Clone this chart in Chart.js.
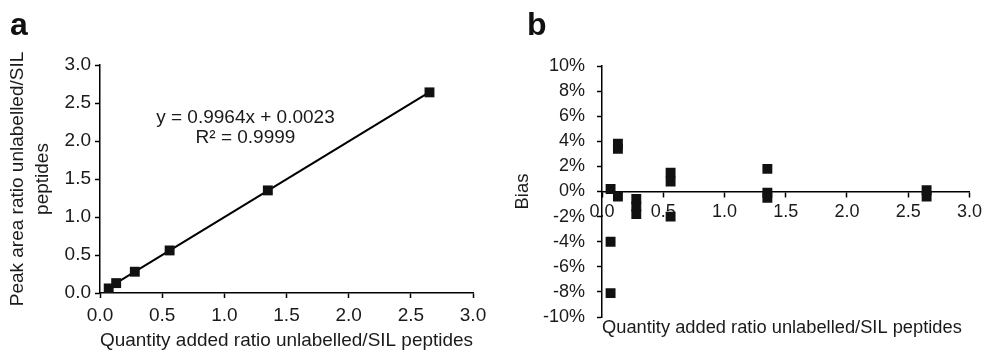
<!DOCTYPE html>
<html>
<head>
<meta charset="utf-8">
<script src="https://cdn.jsdelivr.net/npm/chart.js@4.4.1/dist/chart.umd.min.js"></script>
<style>
  html, body { margin: 0; padding: 0; background: #fff; }
  #wrap { position: relative; width: 987px; height: 352px; }
  canvas { position: absolute; top: 0; }
  #chartA { left: 0; }
  #chartB { left: 495px; }
</style>
</head>
<body>
<div id="wrap">
  <canvas id="chartA" width="495" height="352"></canvas>
  <canvas id="chartB" width="492" height="352"></canvas>
</div>
<script>
// added ratio levels (unlabelled / SIL)
const addedRatio = [0.07, 0.13, 0.28, 0.56, 1.35, 2.65];
// measured peak area ratio per level (panel a)
const peakRatio = [0.06, 0.13, 0.28, 0.56, 1.35, 2.64];
// linear fit shown on panel a
const fitSlope = 0.9964;
const fitIntercept = 0.0023;
const fitR2 = 0.9999;

// panel b: bias (%) of each replicate
const biasX = [0.07, 0.07, 0.07, 0.13, 0.13, 0.13, 0.28, 0.28, 0.28, 0.56, 0.56, 0.56, 1.35, 1.35, 1.35, 2.65, 2.65];
const biasY = [0.2, -4.0, -8.1, 3.8, 3.4, -0.4, -0.6, -1.2, -1.8, 1.5, 0.8, -2.0, 1.8, -0.1, -0.5, 0.1, -0.4];

const xMin = 0, xMax = 3, xStep = 0.5;
const peakMin = 0, peakMax = 3, peakStep = 0.5;
const biasMin = -10, biasMax = 10, biasStep = 2;

Chart.defaults.font.family = '"Liberation Sans", Arial, sans-serif';
Chart.defaults.color = '#1a1a1a';
Chart.defaults.animation = false;

const black = '#111';

function axisGrid() {
  return { drawOnChartArea: false, drawTicks: true, tickLength: 5, tickColor: '#000', tickWidth: 1.5 };
}

// panel letter + extra texts
function textPlugin(letter, letterX, extra) {
  return {
    id: 'texts' + letter,
    afterDraw(chart) {
      const ctx = chart.ctx;
      ctx.save();
      ctx.fillStyle = '#111';
      ctx.font = 'bold 32px "Liberation Sans", Arial, sans-serif';
      ctx.textAlign = 'left';
      ctx.textBaseline = 'alphabetic';
      ctx.fillText(letter, letterX, 35);
      if (extra) extra(chart, ctx);
      ctx.restore();
    }
  };
}

let fitLine = [addedRatio[0], addedRatio[addedRatio.length - 1]].map(x => ({ x: x, y: fitSlope * x + fitIntercept }));

new Chart(document.getElementById('chartA'), {
  type: 'scatter',
  data: {
    datasets: [
      {
        label: 'Peak area ratio',
        data: addedRatio.map((x, i) => ({ x: x, y: peakRatio[i] })),
        pointStyle: 'rect',
        pointRadius: 7,
        backgroundColor: black,
        borderColor: black,
        borderWidth: 0,
        order: 1
      },
      {
        label: 'Linear fit',
        type: 'line',
        data: fitLine,
        borderColor: '#000',
        borderWidth: 2,
        pointRadius: 0,
        fill: false,
        order: 2
      }
    ]
  },
  options: {
    responsive: false,
    layout: { padding: { left: 0, top: 65, right: 22, bottom: 0 } },
    plugins: { legend: { display: false }, tooltip: { enabled: false } },
    scales: {
      x: {
        type: 'linear', min: xMin, max: xMax,
        ticks: { stepSize: xStep, padding: 6, font: { size: 19 }, maxRotation: 0, callback: v => v.toFixed(1) },
        grid: axisGrid(),
        border: { color: '#000', width: 1.5 },
        title: { display: true, text: 'Quantity added ratio unlabelled/SIL peptides', font: { size: 19 }, padding: { top: 0, bottom: 0 } },
        afterFit: s => { s.height = 59; }
      },
      y: {
        min: peakMin, max: peakMax,
        ticks: { stepSize: peakStep, padding: 4, font: { size: 19 }, callback: v => v.toFixed(1) },
        grid: axisGrid(),
        border: { color: '#000', width: 1.5 },
        title: { display: true, text: ['Peak area ratio unlabelled/SIL', 'peptides'], font: { size: 19, lineHeight: 1.28 }, padding: { top: 6, bottom: 0 } },
        afterFit: s => { s.width = 100; }
      }
    }
  },
  plugins: [textPlugin('a', 10, (chart, ctx) => {
    const sx = chart.scales.x, sy = chart.scales.y;
    const cx = sx.getPixelForValue(1.17);
    const cy = sy.getPixelForValue(2.30);
    ctx.font = '19px "Liberation Sans", Arial, sans-serif';
    ctx.textAlign = 'center';
    ctx.textBaseline = 'middle';
    ctx.fillStyle = '#1a1a1a';
    ctx.fillText('y = ' + fitSlope + 'x + ' + fitIntercept, cx, cy);
    ctx.fillText('R\u00b2 = ' + fitR2, cx, cy + 20);
  })]
});

new Chart(document.getElementById('chartB'), {
  type: 'scatter',
  data: {
    datasets: [{
      label: 'Bias',
      data: biasX.map((x, i) => ({ x: x, y: biasY[i] })),
      pointStyle: 'rect',
      pointRadius: 7,
      backgroundColor: black,
      borderColor: black,
      borderWidth: 0
    }]
  },
  options: {
    responsive: false,
    layout: { padding: { left: 0, top: 66, right: 14, bottom: 35 } },
    plugins: { legend: { display: false }, tooltip: { enabled: false } },
    scales: {
      x: {
        type: 'linear', min: xMin, max: xMax, position: { y: 0 },
        ticks: { stepSize: xStep, padding: 5, font: { size: 18 }, maxRotation: 0, callback: v => v.toFixed(1) },
        grid: axisGrid(),
        border: { color: '#000', width: 1.5 },
        afterFit: s => { s.height = 0; }
      },
      y: {
        min: biasMin, max: biasMax,
        ticks: { stepSize: biasStep, padding: 12, font: { size: 18 }, callback: v => v + '%' },
        grid: axisGrid(),
        border: { color: '#000', width: 1.5 },
        title: { display: true, text: 'Bias', font: { size: 18.5 }, padding: { top: 17, bottom: 0 } },
        afterFit: s => { s.width = 107; }
      }
    }
  },
  plugins: [textPlugin('b', 32, (chart, ctx) => {
    const area = chart.chartArea;
    ctx.font = '18.3px "Liberation Sans", Arial, sans-serif';
    ctx.textAlign = 'left';
    ctx.textBaseline = 'middle';
    ctx.fillStyle = '#1a1a1a';
    ctx.fillText('Quantity added ratio unlabelled/SIL peptides', area.left, 328);
  })]
});
</script>
</body>
</html>
